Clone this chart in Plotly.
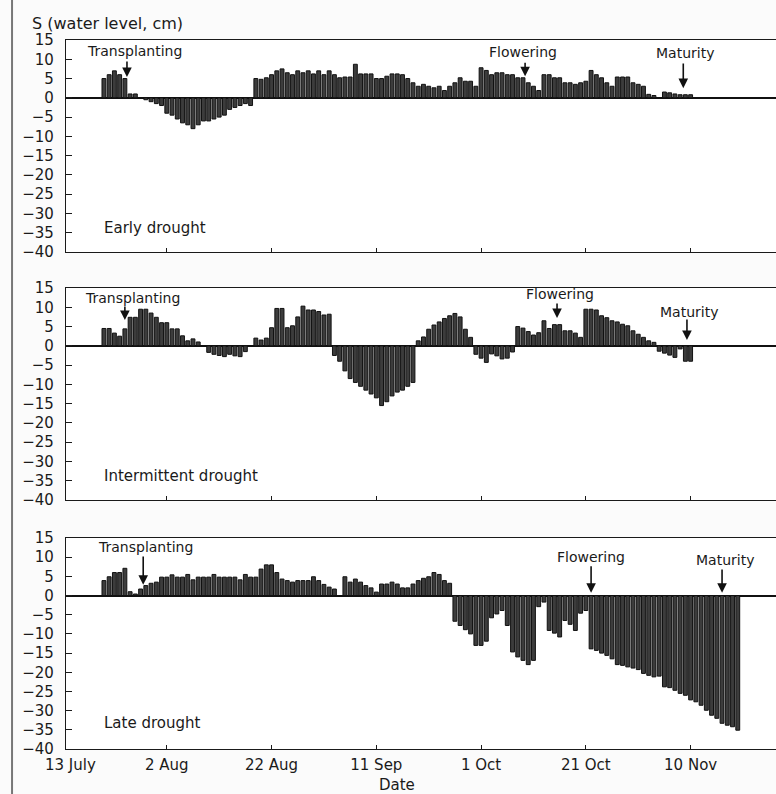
import numpy as np
import plotly.graph_objects as go

# Daily standing water level S (cm); day numbers count from 13 July.
EARLY_START = 8
EARLY_S = [5, 6, 7, 6, 5, 1, 1, 0,
           -0.5, -1, -1.5, -2, -4, -4.5, -5.5, -6.5, -7, -8, -7, -6, -6, -5.5, -5, -4.5, -3, -2.5, -2, -1.5, -2,
           5, 4.8, 5.2, 6, 7, 7.5, 6.5, 6, 7, 6.5, 7, 6.2, 7, 6, 7, 6, 5.2, 5.4, 5.4, 8.7, 6.2, 6.2, 6.2, 5, 5, 5.6, 6.2, 6.2,
           6, 5, 3.9, 3, 3.5, 3, 2.6, 3, 1.9, 3, 3.9, 5.2, 4.3, 4.3, 3, 7.8, 7.1, 6, 6.5, 6.5, 6, 6, 5.2, 5.2, 3.9, 3,
           1.9, 6, 6, 5.2, 5.2, 3.9, 3.9, 3.5, 3.9, 4.3, 7.1, 6, 5.2, 3.9, 3, 5.4, 5.4, 5.4, 3.9, 3.5, 3, 0.9, 0.6, 0,
           1.5, 1.3, 1, 0.8, 0.8, 0.8]

INTERMITTENT_START = 8
INTERMITTENT_S = [4.5, 4.5, 3.3, 2.5, 4.4, 7.4, 7.4, 9.5, 9.5, 8.5, 7.4, 6, 6, 4.4, 4.4, 2.6, 1.3, 1.8, 1,
                  0,
                  -1.7, -2.2, -2.5, -2.8, -2.2, -2.6, -2.8, -1.5,
                  0,
                  2, 1.5, 2, 4.7, 9.7, 9.7, 4.7, 5.2, 7.5, 10.3, 9.3, 9.3, 8.9, 8, 8.2,
                  -2.5, -4, -6.5, -8.5, -9.5, -10.5, -11.5, -12.5, -13.5, -15.5, -14.5, -13, -12, -11.5, -10.5, -9.5,
                  1.3, 2.3, 4.3, 5.4, 6.2, 7.1, 7.8, 8.4, 7.5, 4.3, 2.2,
                  -2.2, -3.2, -4.3, -2.1, -2.6, -3.4, -3.2, -1.6,
                  5, 4.6, 3.7, 2.8, 3.4, 6.5, 4.5, 5.5, 5.5, 3.9, 3.9, 3.3, 2.2, 9.5, 9.5, 9.3, 7.8, 7.3, 6.5, 6.2,
                  5.6, 5.2, 3.9, 3, 2.2, 1.3, 0.9,
                  -1.4, -1.9, -2.4, -3, -0.8, -4, -4]

LATE_START = 8
LATE_S = [3.9, 4.9, 6, 6, 7.1, 1, 0.4, 1.7, 2.6, 3.2, 3.5, 4.8, 4.8, 5.4, 4.8, 4.8, 5.5, 4.1, 4.8, 4.8,
          4.8, 5.5, 4.8, 4.8, 4.8, 4.8, 4.1, 5.5, 4.8, 4.8, 6.9, 8, 8, 6, 4.3, 3.9, 3.5, 3.9, 3.9, 3.9,
          4.9, 3.9, 2.9, 2.2, 1.7,
          0,
          4.9, 3.5, 4.3, 3.5, 2.6, 2, 0.9, 3, 3, 3.5, 3, 2, 2, 3, 3.9, 4.5, 4.9, 6, 5.5, 3.9, 3.2,
          -6.7, -7.8, -8.9, -10, -13, -13, -11.9, -5.8, -4.8, -3.9,
          -7.8, -14.7, -16, -16.9, -18, -16.9, -2.9, -1.7, -9.1, -9.8,
          -10.8, -6.5, -7.5, -9.1, -4.6, -3.9, -13.9, -14.3, -15, -15.6,
          -16.5, -18, -18.2, -18.6, -18.9, -19.3, -20.3, -20.8, -21.2, -21,
          -23.8, -24, -24.7, -25.5, -26, -27.2, -27.7, -28.6, -29.9, -31.2,
          -32, -33.3, -33.8, -34.2, -35.1]

TICK_DAYS = [20, 40, 60, 80, 100, 120]
TICK_LABELS = ["2 Aug", "22 Aug", "11 Sep", "1 Oct", "21 Oct", "10 Nov"]
START_LABEL = "13 July"
Y_TICKS = [15, 10, 5, 0, -5, -10, -15, -20, -25, -30, -35, -40]
X_RANGE = [0.76, 136.3]

# Crop stage markers: (label, arrow day, arrow top, arrow tip, label day, label height)
EARLY_STAGES = [("Transplanting", 12.4, 9.8, 5.4, 13.9, 12.1),
                ("Flowering", 88.4, 9.5, 5.6, 88.0, 11.9),
                ("Maturity", 118.6, 9.3, 2.5, 119.0, 11.6)]
INTERMITTENT_STAGES = [("Transplanting", 12.0, 10.6, 6.7, 13.4, 12.5),
                       ("Flowering", 94.5, 11.4, 7.2, 95.1, 13.4),
                       ("Maturity", 119.3, 7.2, 1.5, 119.6, 8.8)]
LATE_STAGES = [("Transplanting", 15.5, 10.6, 2.8, 16.0, 12.7),
               ("Flowering", 101.0, 8.0, 0.7, 100.9, 10.0),
               ("Maturity", 126.0, 7.2, 0.7, 126.5, 9.3)]

PANELS = [("Early drought", EARLY_START, EARLY_S, EARLY_STAGES, -33.8),
          ("Intermittent drought", INTERMITTENT_START, INTERMITTENT_S, INTERMITTENT_STAGES, -33.8),
          ("Late drought", LATE_START, LATE_S, LATE_STAGES, -33.3)]

DOMAINS = [[0.701, 1.0], [0.3512, 0.6502], [0.0, 0.2976]]
FONT = "DejaVu Sans"
INK = "#1a1a1a"

fig = go.Figure()
annotations = []
layout = {}

for i, (name, start, vals, stages, label_y) in enumerate(PANELS):
    n = i + 1
    xa, ya = f"x{n}", f"y{n}"
    days = np.arange(start, start + len(vals))
    fig.add_trace(go.Bar(
        x=days, y=vals, xaxis=xa, yaxis=ya, width=0.74,
        marker=dict(color="#3c3c3c", line=dict(color="#111111", width=1)),
        showlegend=False,
    ))
    layout[f"xaxis{n}"] = dict(
        domain=[0, 1], anchor=ya, range=X_RANGE,
        showline=True, linecolor=INK, linewidth=1.3, mirror=True,
        ticks="inside", ticklen=4, tickcolor=INK,
        tickvals=TICK_DAYS, ticktext=TICK_LABELS, ticklabelstandoff=2,
        showticklabels=(n == 3), showgrid=False, zeroline=False,
        tickfont=dict(family=FONT, size=15, color=INK),
    )
    layout[f"yaxis{n}"] = dict(
        domain=DOMAINS[i], anchor=xa, range=[-40, 15],
        showline=True, linecolor=INK, linewidth=1.3,
        ticks="inside", ticklen=6, tickcolor=INK,
        tickvals=Y_TICKS, showgrid=False, ticklabelstandoff=8,
        zeroline=True, zerolinecolor="#111111", zerolinewidth=1.6,
        tickfont=dict(family=FONT, size=15, color=INK),
    )
    annotations.append(dict(
        x=7.6, y=label_y, xref=xa, yref=ya, text=name, showarrow=False,
        xanchor="left", yanchor="middle", font=dict(family=FONT, size=15, color=INK),
    ))
    for label, ad, a_top, a_tip, ld, ly in stages:
        annotations.append(dict(
            x=ad, y=a_tip, ax=ad, ay=a_top, xref=xa, yref=ya, axref=xa, ayref=ya,
            text="", showarrow=True, arrowhead=2, arrowsize=1.2, arrowwidth=1.6,
            arrowcolor="#111111",
        ))
        annotations.append(dict(
            x=ld, y=ly, xref=xa, yref=ya, text=label, showarrow=False,
            xanchor="center", yanchor="middle", font=dict(family=FONT, size=14, color=INK),
        ))

# Season start label sits at the left end of the bottom axis
annotations.append(dict(
    x=0.007, y=-0.0225, xref="paper", yref="paper", text=START_LABEL,
    showarrow=False, xanchor="center", yanchor="middle",
    font=dict(family=FONT, size=15, color=INK),
))
annotations.append(dict(
    x=-0.0507, y=1.0226, xref="paper", yref="paper", text="S (water level, cm)",
    showarrow=False, xanchor="left", yanchor="middle",
    font=dict(family=FONT, size=16, color=INK),
))
annotations.append(dict(
    x=0.466, y=-0.0505, xref="paper", yref="paper", text="Date",
    showarrow=False, xanchor="center", yanchor="middle",
    font=dict(family=FONT, size=15, color=INK),
))

fig.update_layout(
    width=776, height=794,
    margin=dict(l=66, r=0, t=40, b=45),
    plot_bgcolor="white", paper_bgcolor="#fbfbfb",
    annotations=annotations,
    shapes=[dict(type="line", xref="paper", yref="paper",
                 x0=-0.076, x1=-0.076, y0=-0.07, y1=1.06,
                 line=dict(color="#777777", width=2))],
    **layout,
)

fig.write_html("out.html")
